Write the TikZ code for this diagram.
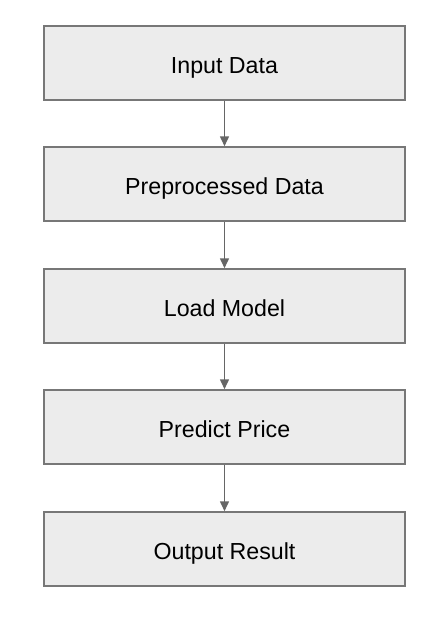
\documentclass[tikz,border=0pt]{standalone}
\usepackage{fontspec}
\setmainfont{Liberation Sans}
\usetikzlibrary{arrows.meta}
\definecolor{boxfill}{HTML}{ECECEC}
\definecolor{boxline}{HTML}{777777}
\definecolor{arrowc}{HTML}{666666}
\begin{document}
\begin{tikzpicture}[x=1pt,y=-1pt,
  stepbox/.style={draw=boxline, line width=1.5pt, fill=boxfill, minimum width=361pt, minimum height=74pt, inner sep=0pt, text height=20pt, text depth=0pt, font=\fontsize{23.2}{28}\selectfont},
  flow/.style={draw=arrowc, line width=1.5pt, -{Triangle[length=10pt,width=9pt]}}]
\useasboundingbox (0,0) rectangle (446,622);
\node[stepbox] (a) at (224.5,63) {Input Data};
\node[stepbox] (b) at (224.5,184) {Preprocessed Data};
\node[stepbox] (c) at (224.5,306) {Load Model};
\node[stepbox] (d) at (224.5,427) {Predict Price};
\node[stepbox] (e) at (224.5,549) {Output Result};
\draw[flow] (a) -- (b);
\draw[flow] (b) -- (c);
\draw[flow] (c) -- (d);
\draw[flow] (d) -- (e);
\end{tikzpicture}
\end{document}
